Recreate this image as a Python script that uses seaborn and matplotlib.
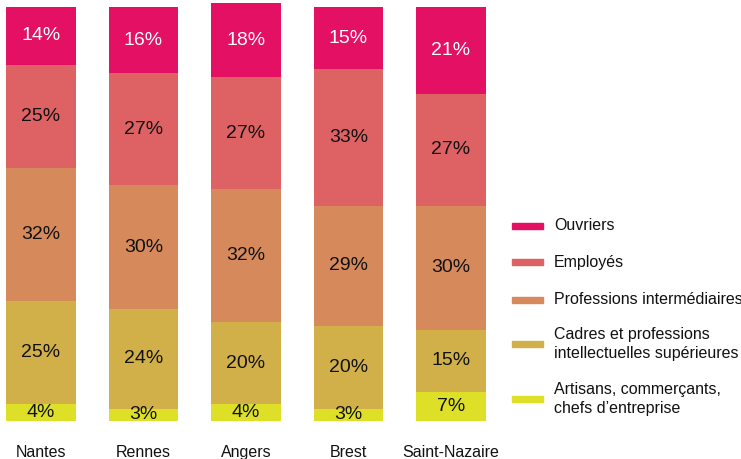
import matplotlib
matplotlib.use("Agg")
import matplotlib.pyplot as plt
import seaborn as sns
import pandas as pd
import numpy as np
from matplotlib.patches import Rectangle

sns.set_theme(style="white")
plt.rcParams["font.family"] = ["Liberation Sans", "DejaVu Sans"]

cities = ["Nantes", "Rennes", "Angers", "Brest", "Saint-Nazaire"]
categories = [
    "Artisans, commerçants,\nchefs d’entreprise",
    "Cadres et professions\nintellectuelles supérieures",
    "Professions intermédiaires",
    "Employés",
    "Ouvriers",
]
artisans = [4, 3, 4, 3, 7]
cadres = [25, 24, 20, 20, 15]
intermediaires = [32, 30, 32, 29, 30]
employes = [25, 27, 27, 33, 27]
ouvriers = [14, 16, 18, 15, 21]
colors = ["#DDE027", "#D1B04A", "#D68A5C", "#DE6264", "#E31063"]
text_colors = ["#111111", "#111111", "#111111", "#111111", "white"]

series = [artisans, cadres, intermediaires, employes, ouvriers]
df = pd.DataFrame({"city": cities})

W, H = 741, 459
fig = plt.figure(figsize=(W / 100, H / 100), dpi=100)
ax = fig.add_axes([0, 38 / H, 492 / W, 414 / H])

bottom = np.zeros(len(cities))
for cat, vals, col, tcol in zip(categories, series, colors, text_colors):
    d = df.assign(v=vals)
    sns.barplot(data=d, x="city", y="v", color=col, width=0.68,
                bottom=bottom, ax=ax, saturation=1, linewidth=0, errorbar=None)
    for i, v in enumerate(vals):
        ax.text(i, bottom[i] + v / 2, f"{v}%", ha="center", va="center",
                color=tcol, fontsize=14)
    bottom = bottom + np.array(vals)

ax.set_xlim(-0.4, 4.4)
ax.set_ylim(0, 100)
for b in ax.patches:
    b.set_clip_on(False)
ax.set_xlabel("")
ax.set_ylabel("")
ax.set_yticks([])
ax.tick_params(axis="x", length=0, labelsize=11.5, pad=17, labelcolor="#111111")
sns.despine(ax=ax, left=True, bottom=True)

# key on the right
entries = [
    (4, 226), (3, 262), (2, 300), (1, 344), (0, 399),
]
for idx, yc in entries:
    fig.add_artist(Rectangle((512 / W, 1 - (yc + 3) / H), 31 / W, 6 / H,
                             transform=fig.transFigure, color=colors[idx]))
    fig.text(554 / W, 1 - yc / H, categories[idx], ha="left", va="center",
             fontsize=11.5, color="#111111", linespacing=1.3)

fig.savefig("out.png", dpi=100)
